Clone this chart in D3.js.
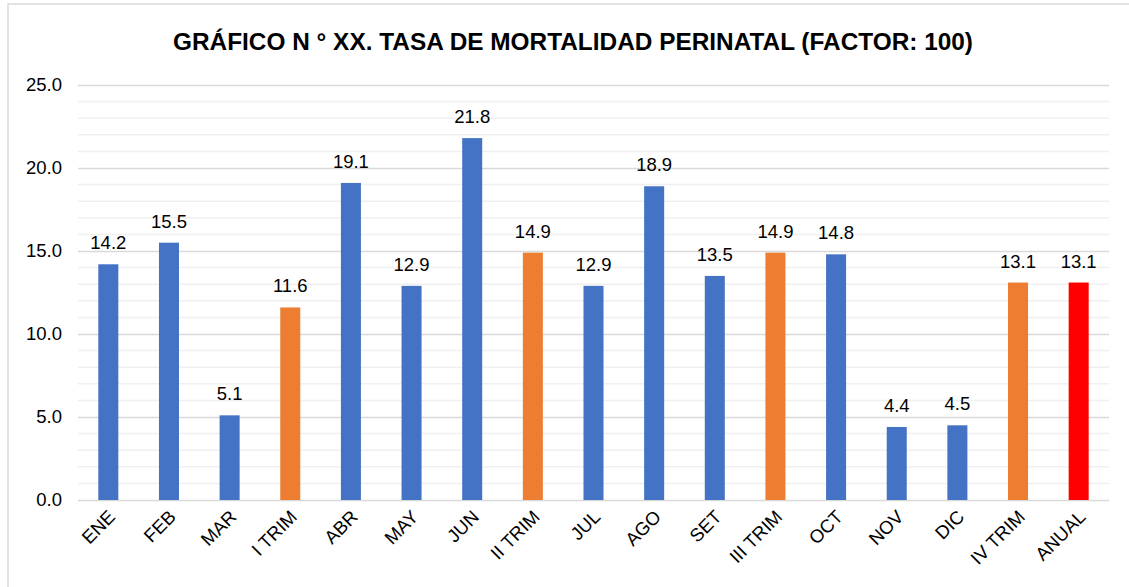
<!DOCTYPE html>
<html>
<head>
<meta charset="utf-8">
<script src="https://cdn.jsdelivr.net/npm/d3@7"></script>
<style>
  body { margin: 0; background: #fff; }
  svg { display: block; font-family: "Liberation Sans", Arial, sans-serif; }
</style>
</head>
<body>
<div id="chart"></div>
<script>
const categories = ["ENE", "FEB", "MAR", "I TRIM", "ABR", "MAY", "JUN", "II TRIM", "JUL", "AGO", "SET", "III TRIM", "OCT", "NOV", "DIC", "IV TRIM", "ANUAL"];
const values = [14.2, 15.5, 5.1, 11.6, 19.1, 12.9, 21.8, 14.9, 12.9, 18.9, 13.5, 14.9, 14.8, 4.4, 4.5, 13.1, 13.1];
const kinds = ["mes", "mes", "mes", "trim", "mes", "mes", "mes", "trim", "mes", "mes", "mes", "trim", "mes", "mes", "mes", "trim", "anual"];
const yTicks = [0, 5, 10, 15, 20, 25];
const title = "GRÁFICO N ° XX. TASA DE MORTALIDAD PERINATAL (FACTOR: 100)";

const W = 1129, H = 587;
const margin = { top: 85, right: 20, bottom: 87, left: 78 };
const colors = { mes: "#4472C4", trim: "#ED7D31", anual: "#FF0000" };

const svg = d3.select("#chart").append("svg")
    .attr("width", W)
    .attr("height", H);

// marco
svg.append("rect")
    .attr("x", 8).attr("y", 4)
    .attr("width", 1300).attr("height", 800)
    .attr("fill", "#fff")
    .attr("stroke", "#d9d9d9")
    .attr("stroke-width", 1.5);

const x = d3.scaleBand()
    .domain(categories)
    .range([margin.left, W - margin.right])
    .paddingInner(0.67)
    .paddingOuter(0.335);

const y = d3.scaleLinear()
    .domain([0, 25])
    .range([H - margin.bottom, margin.top]);

// lineas menores
svg.append("g")
    .selectAll("line")
    .data(d3.range(0, 26, 1).filter(d => d % 5 !== 0))
    .join("line")
    .attr("x1", margin.left).attr("x2", W - margin.right)
    .attr("y1", d => y(d)).attr("y2", d => y(d))
    .attr("stroke", "#f0f0f0")
    .attr("stroke-width", 1.5);

// eje y
const yAxis = svg.append("g")
    .attr("transform", `translate(${margin.left},0)`)
    .call(d3.axisLeft(y).tickValues(yTicks).tickFormat(d3.format(".1f"))
        .tickSize(-(W - margin.left - margin.right)).tickPadding(16));
yAxis.select(".domain").remove();
yAxis.selectAll(".tick line").attr("stroke", "#d9d9d9").attr("stroke-width", 1.5);
yAxis.selectAll(".tick text").attr("font-size", 18.5).attr("fill", "#000");

// barras
svg.append("g")
    .selectAll("rect")
    .data(values)
    .join("rect")
    .attr("x", (d, i) => x(categories[i]))
    .attr("y", d => y(d))
    .attr("width", x.bandwidth())
    .attr("height", d => y(0) - y(d))
    .attr("fill", (d, i) => colors[kinds[i]]);

// valores
svg.append("g")
    .selectAll("text")
    .data(values)
    .join("text")
    .attr("x", (d, i) => x(categories[i]) + x.bandwidth() / 2)
    .attr("y", d => y(d) - 15)
    .attr("text-anchor", "middle")
    .attr("font-size", 18.5)
    .attr("fill", "#000")
    .text(d => d.toFixed(1));

// eje x
const xAxis = svg.append("g")
    .attr("transform", `translate(0,${y(0)})`)
    .call(d3.axisBottom(x).tickSize(0).tickPadding(0));
xAxis.select(".domain").remove();
xAxis.selectAll(".tick text")
    .attr("font-size", 18.5)
    .attr("fill", "#000")
    .attr("text-anchor", "end")
    .attr("dy", 0)
    .attr("transform", "translate(8,18) rotate(-45)");

// titulo
svg.append("text")
    .attr("x", 573)
    .attr("y", 50)
    .attr("text-anchor", "middle")
    .attr("font-size", 24)
    .attr("font-weight", "bold")
    .attr("fill", "#000")
    .attr("textLength", 800)
    .attr("lengthAdjust", "spacingAndGlyphs")
    .text(title);
</script>
</body>
</html>
